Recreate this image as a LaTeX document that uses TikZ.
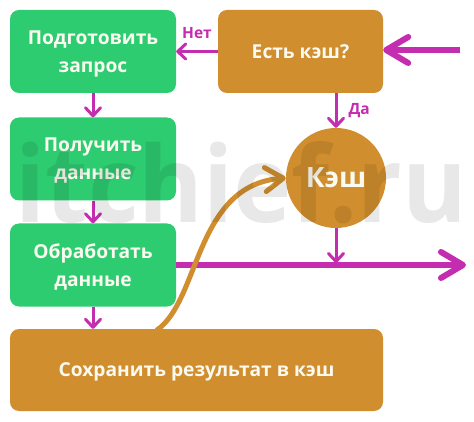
\documentclass[tikz,border=0pt]{standalone}
\usepackage{fontspec}
\usepackage{graphicx}
\setmainfont{Open Sans}
\newfontfamily\wmfont{Open Sans}
\usetikzlibrary{arrows.meta}
\definecolor{gr}{HTML}{2ECC71}
\definecolor{org}{HTML}{D08E2E}
\definecolor{mag}{HTML}{C42DB0}
\definecolor{txt}{HTML}{FAFAF0}
\tikzset{
  gbox/.style={fill=gr, rounded corners=9pt, minimum width=166pt, minimum height=83pt, inner sep=0pt, align=center, text depth=0pt, text=txt, font=\bfseries\fontsize{19.2}{28}\selectfont},
  obox/.style={gbox, fill=org},
  thinarr/.style={draw=mag, line width=3pt, -{Straight Barb[length=8pt,width=15pt,round]}},
  thickarr/.style={draw=mag, line width=6pt, -{Straight Barb[length=22pt,width=26pt,round]}},
  curvearr/.style={draw=org, line width=5pt, line cap=round, -{Straight Barb[length=18pt,width=24pt,round]}},
  lbl/.style={text=mag, font=\bfseries\fontsize{15.5}{18}\selectfont, inner sep=0pt}
}
\begin{document}
\begin{tikzpicture}[x=1pt,y=-1pt]
\useasboundingbox (0,0) rectangle (474,422);
\fill[white] (0,0) rectangle (474,422);
\node[gbox] (prep) at (93,51.5) {Подготовить\\запрос};
\node[gbox] (get) at (93,159) {Получить\\данные};
\node[gbox] (proc) at (93,265) {Обработать\\данные};
\node[obox, minimum width=373pt, minimum height=82pt] (save) at (196.5,370) {Сохранить результат в кэш};
\node[obox, minimum width=165pt] (has) at (300.5,51.5) {Есть кэш?};
\node[circle, fill=org, minimum size=100pt, inner sep=0pt, text=txt, font=\bfseries\fontsize{28}{30}\selectfont] (cache) at (336,178) {Кэш};
\coordinate (in) at (460,50);
\coordinate (out) at (466,265);
\coordinate (cs) at (157,330);
\draw[thinarr] (prep.south) -- (get.north);
\draw[thinarr] (get.south) -- (proc.north);
\draw[thinarr] (proc.south) -- (proc.south |- save.north);
\draw[thinarr] (has.west) -- node[lbl, above=11pt] (net) {Нет} (prep.east);
\draw[thinarr] (cache.north |- has.south) -- node[lbl, right=11pt] (da) {Да} (cache.north);
\draw[thickarr] (in) -- (has.east |- in);
\draw[thinarr, shorten >=2pt] (cache.south) -- (cache.south |- out);
\draw[thickarr] (proc.east) -- (out);
\draw[curvearr] (cs) .. controls (200,300) and (195,185) .. (cache.west);
\node[anchor=base west, inner sep=0pt, opacity=0.09, text=black] (wm) at (15,223) {\resizebox{452pt}{81pt}{\wmfont\bfseries itchief.ru}};
\end{tikzpicture}
\end{document}
